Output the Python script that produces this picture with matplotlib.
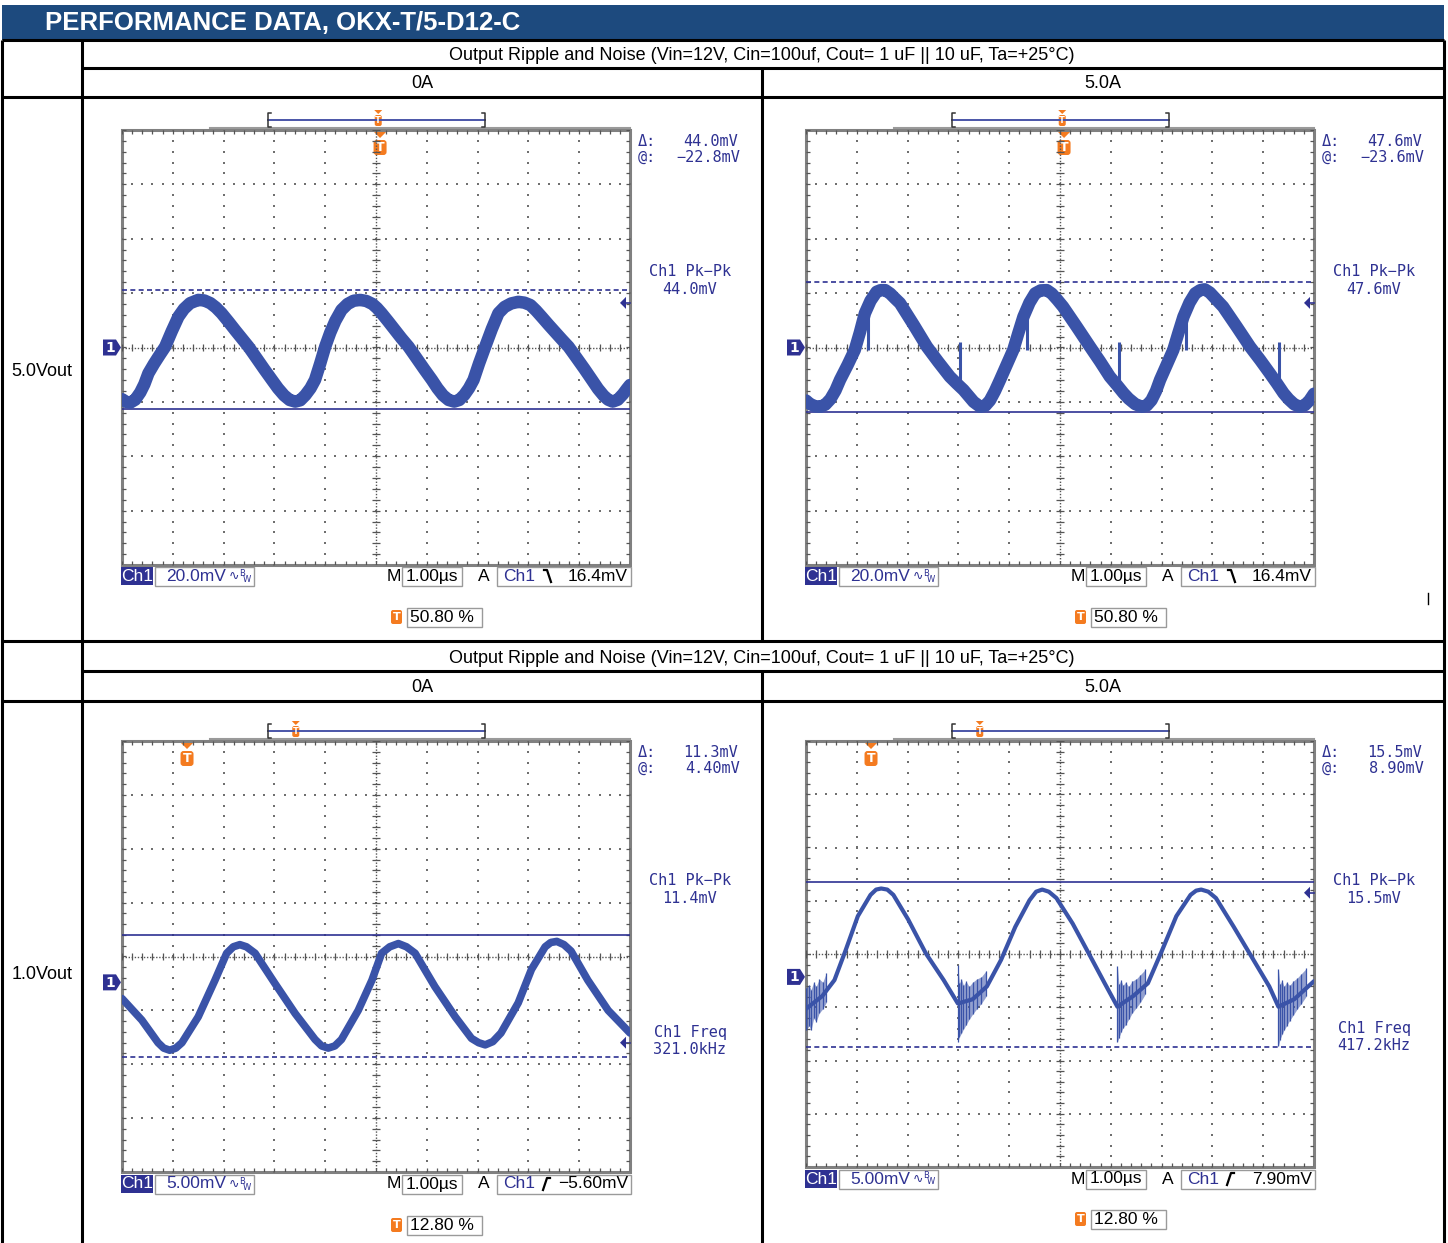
import numpy as np
import matplotlib
matplotlib.use('Agg')
import matplotlib.pyplot as plt
from matplotlib.patches import Rectangle, Polygon, FancyBboxPatch
from matplotlib import font_manager

# ---------------- table text ----------------
header = 'PERFORMANCE DATA, OKX-T/5-D12-C'
test_title = 'Output Ripple and Noise (Vin=12V, Cin=100uf, Cout= 1 uF || 10 uF, Ta=+25°C)'
load_labels = ['0A', '5.0A']
vout_labels = ['5.0Vout', '1.0Vout']

# ---------------- waveforms (t in us from left edge, mV from ch1 ground) ----------------
# 5.0Vout, 0A
tl_t = [0.00, 0.08, 0.16, 0.26, 0.36, 0.44, 0.52, 0.63, 0.74, 0.85, 0.98, 1.11, 1.22, 1.34,
        1.50, 1.62, 1.74, 1.85, 1.96, 2.10, 2.23, 2.36, 2.49, 2.64, 2.80, 2.95, 3.07, 3.19,
        3.30, 3.41, 3.51, 3.61, 3.71, 3.80, 3.90, 4.00, 4.10, 4.20, 4.32, 4.44, 4.56, 4.69,
        4.81, 4.93, 5.02, 5.11, 5.24, 5.37, 5.50, 5.64, 5.79, 5.95, 6.10, 6.21, 6.32, 6.43,
        6.54, 6.64, 6.74, 6.83, 6.92, 7.03, 7.15, 7.28, 7.41, 7.53, 7.66, 7.80, 7.92, 8.04,
        8.15, 8.26, 8.40, 8.53, 8.66, 8.79, 8.94, 9.10, 9.25, 9.37, 9.48, 9.57, 9.66, 9.76,
        9.86, 9.94, 10.0]
tl_mv = [-19.0, -20.0, -20.3, -19.2, -16.5, -13.5, -9.5, -6.0, -2.8, 0.3, 6.0, 11.3, 14.2, 16.3,
         17.5, 17.3, 16.3, 14.7, 12.6, 9.4, 6.3, 3.3, 0.3, -3.7, -8.0, -11.9, -15.0, -17.6,
         -19.3, -19.9, -19.4, -17.5, -15.0, -11.9, -6.0, 0.3, 5.5, 9.8, 13.8, 16.0, 17.2, 17.5,
         17.1, 16.0, 14.5, 12.6, 9.6, 6.5, 3.4, 0.3, -3.7, -8.0, -11.9, -15.0, -17.6, -19.3,
         -19.9, -19.3, -17.4, -15.0, -11.9, -5.8, 0.3, 6.8, 12.6, 14.9, 16.2, 16.8, 16.5, 15.6,
         13.6, 11.3, 8.3, 5.6, 2.9, 0.3, -3.6, -7.8, -11.9, -15.2, -17.7, -19.2, -19.9, -19.2,
         -17.2, -15.2, -13.8]

# 5.0Vout, 5.0A
tr_t = [0.00, 0.08, 0.18, 0.28, 0.38, 0.48, 0.58, 0.67, 0.82, 0.96, 1.06, 1.16, 1.27, 1.39,
        1.47, 1.56, 1.66, 1.75, 1.85, 2.12, 2.38, 2.60, 2.83, 2.97, 3.10, 3.20, 3.30, 3.43,
        3.53, 3.62, 3.72, 3.82, 3.95, 4.08, 4.18, 4.28, 4.40, 4.51, 4.62, 4.74, 4.84, 4.95,
        5.06, 5.33, 5.59, 5.79, 5.98, 6.12, 6.25, 6.35, 6.48, 6.61, 6.71, 6.80, 6.89, 6.97,
        7.10, 7.23, 7.33, 7.43, 7.55, 7.66, 7.76, 7.85, 7.95, 8.08, 8.21, 8.48, 8.74, 8.94,
        9.13, 9.27, 9.40, 9.50, 9.61, 9.72, 9.82, 9.91, 10.0]
tr_mv = [-19.5, -20.8, -21.6, -21.8, -21.0, -19.0, -15.8, -11.9, -6.4, -0.9, 5.5, 12.6, 17.2, 20.5,
         21.1, 21.1, 19.8, 18.1, 16.3, 8.3, 0.3, -5.2, -10.7, -13.3, -15.6, -17.8, -20.0, -21.8,
         -21.4, -19.5, -16.0, -11.9, -6.4, -0.9, 5.3, 11.3, 16.5, 19.9, 21.0, 21.1, 19.8, 17.5,
         15.0, 7.6, 0.3, -5.2, -10.7, -13.8, -16.8, -18.8, -20.8, -21.8, -21.3, -19.4, -16.0, -11.9,
         -6.4, -0.9, 5.3, 11.3, 16.5, 19.9, 21.1, 21.4, 20.2, 17.6, 15.0, 7.6, 0.3, -4.6,
         -9.5, -13.2, -16.8, -19.0, -20.9, -21.8, -21.2, -19.5, -17.0]
tr_spike_t = [1.23, 3.03, 4.36, 6.16, 7.49, 9.31]
tr_spike_lo = [-0.9, -14.0, -0.9, -14.0, -0.9, -14.0]
tr_spike_hi = [13.0, 2.2, 12.0, 2.2, 12.0, 2.2]

# 1.0Vout, 0A
bl_t = [0.00, 0.39, 0.71, 0.82, 0.94, 1.06, 1.18, 1.50, 1.83, 2.06, 2.19, 2.32, 2.45, 2.62,
        3.01, 3.41, 3.80, 3.93, 4.06, 4.19, 4.32, 4.65, 4.92, 5.11, 5.27, 5.44, 5.60, 5.77,
        6.16, 6.56, 6.88, 7.02, 7.15, 7.30, 7.46, 7.80, 8.06, 8.33, 8.44, 8.56, 8.70, 8.84,
        9.17, 9.57, 10.0]
bl_mv = [-1.5, -3.5, -5.6, -6.1, -6.3, -6.1, -5.6, -3.2, 0.2, 2.7, 3.3, 3.5, 3.3, 2.7,
         -0.1, -2.9, -5.3, -5.9, -6.1, -5.9, -5.3, -2.6, 0.2, 2.7, 3.3, 3.6, 3.3, 2.7,
         -0.4, -3.2, -5.2, -5.6, -5.8, -5.5, -4.7, -1.9, 1.2, 3.3, 3.7, 3.8, 3.5, 2.9,
         0.2, -2.6, -4.7]

# 1.0Vout, 5.0A
br_t = [0.00, 0.32, 0.56, 0.78, 1.02, 1.27, 1.38, 1.48, 1.60, 1.72, 2.01, 2.36, 2.71, 2.99,
        3.28, 3.56, 3.84, 4.12, 4.40, 4.53, 4.65, 4.78, 4.93, 5.25, 5.60, 5.88, 6.13, 6.44,
        6.73, 7.01, 7.29, 7.57, 7.68, 7.78, 7.92, 8.07, 8.42, 8.77, 9.12, 9.30, 9.61, 10.0]
br_mv = [-3.0, -1.8, -0.3, 2.5, 5.7, 7.7, 8.2, 8.3, 8.2, 7.7, 5.4, 2.2, -0.3, -2.5,
         -2.1, -0.9, 1.6, 4.7, 7.2, 8.0, 8.2, 8.0, 7.4, 5.0, 1.9, -0.6, -2.8, -1.8,
         -0.6, 2.5, 5.7, 7.7, 8.1, 8.2, 8.0, 7.4, 4.7, 1.9, -0.9, -2.8, -2.1, -0.4]
# switching noise bursts: group id, time, lower / upper edge
br_noise_grp = [0] * 8 + [1] * 10 + [2] * 10 + [3] * 10
br_noise_t = [0.00, 0.06, 0.10, 0.15, 0.20, 0.26, 0.33, 0.40,
              2.99, 3.02, 3.06, 3.10, 3.15, 3.21, 3.28, 3.36, 3.45, 3.55,
              6.13, 6.16, 6.20, 6.24, 6.29, 6.35, 6.42, 6.50, 6.58, 6.68,
              9.30, 9.33, 9.37, 9.41, 9.46, 9.52, 9.59, 9.67, 9.75, 9.85]
br_noise_lo = [-5.0, -4.6, -5.0, -3.9, -4.2, -3.4, -3.0, -2.4,
               -6.1, -5.6, -5.3, -4.9, -4.5, -4.0, -3.5, -3.0, -2.5, -1.8,
               -6.1, -5.7, -5.2, -4.8, -4.5, -4.0, -3.4, -2.9, -2.4, -1.6,
               -6.5, -5.9, -5.4, -5.0, -4.6, -4.1, -3.6, -3.0, -2.5, -1.8]
br_noise_hi = [-1.0, -0.8, -1.2, -0.5, -0.9, -0.2, -0.5, 0.4,
               1.1, -0.6, -0.2, -0.8, -0.4, -0.9, -0.5, -0.2, 0.0, 0.6,
               1.0, -0.7, -0.3, -0.8, -0.5, -0.9, -0.4, -0.2, 0.2, 0.7,
               0.7, -0.7, -0.3, -0.9, -0.5, -0.8, -0.4, -0.1, 0.3, 0.8]

# ---------------- scope settings / readouts (5V-0A, 5V-5A, 1V-0A, 1V-5A) ----------------
mv_per_div = [20.0, 20.0, 5.0, 5.0]
ground_div = [0.0, 0.0, -0.48, -0.43]
volts_label = ['20.0mV', '20.0mV', '5.00mV', '5.00mV']
time_label = ['1.00µs', '1.00µs', '1.00µs', '1.00µs']
cur_delta = [44.0, 47.6, 11.3, 15.5]
cur_at = [-22.8, -23.6, 4.40, 8.90]
cur_other = [21.2, 24.0, -6.9, -6.6]
pkpk = [44.0, 47.6, 11.4, 15.5]
freq_khz = [None, None, 321.0, 417.2]
trig_mv = [16.4, 16.4, -5.60, 7.90]
trig_slope = ['fall', 'fall', 'rise', 'rise']
trig_pct = [50.80, 50.80, 12.80, 12.80]

# ---------------- layout (pixels) ----------------
W, H = 1448, 1243
screens = [(122, 130, 630, 565), (806, 130, 1314, 565),
           (122, 741, 630, 1172), (806, 741, 1314, 1167)]
status_y = [576, 576, 1184, 1179]
pct_y = [617, 617, 1225, 1219]

NAVY = '#2e3192'
TRACE = '#3a53a8'
ORANGE = '#f47b20'
TABLE_BLUE = '#1d4a7e'

names = {f.name for f in font_manager.fontManager.ttflist}
narrow = 'Liberation Sans Narrow' if 'Liberation Sans Narrow' in names else 'Liberation Sans'
mono = 'DejaVu Sans Mono'


def fmt_mv(v):
    s = f'{v:.2f}' if abs(v) < 10 else f'{v:.1f}'
    return s.replace('-', '\u2212') + 'mV'


def to_px(i, t, mv):
    L, T, R, B = screens[i]
    vd = mv_per_div[i]
    top_mv = -ground_div[i] * vd + 4 * vd
    return L + t / 10 * (R - L), T + (top_mv - mv) / (8 * vd) * (B - T)


fig = plt.figure(figsize=(W / 100, H / 100), dpi=100)
base = fig.add_axes([0, 0, 1, 1])
base.set_xlim(0, W)
base.set_ylim(H, 0)
base.axis('off')

# ---------------- table ----------------
base.add_patch(Rectangle((2, 5), 1442, 35, facecolor=TABLE_BLUE, edgecolor='none'))
base.text(45, 23, header, color='white', fontsize=18.5, fontweight='bold',
          family=[narrow, 'DejaVu Sans'], va='center', ha='left')

lw_t = 2.2
for y, x0 in [(40, 2), (68, 82), (97, 2), (641, 2), (671, 82), (701, 2)]:
    base.plot([x0, 1444], [y, y], color='black', lw=lw_t, solid_capstyle='butt')
for x, y0, y1 in [(2, 40, 1243), (82, 40, 1243), (1444, 40, 1243), (762, 68, 641), (762, 671, 1243)]:
    base.plot([x, x], [y0, y1], color='black', lw=lw_t, solid_capstyle='butt')

tfont = dict(fontsize=13, family=[narrow, 'DejaVu Sans'], va='center', ha='center', color='black')
for yt, yl in [(55, 83), (658, 687)]:
    base.text(762, yt, test_title, **tfont)
    for xc, lab in zip([422, 1103], load_labels):
        base.text(xc, yl, lab, **tfont)
for yc, lab in zip([371, 974], vout_labels):
    base.text(42, yc, lab, **tfont)
base.plot([1428, 1428], [593, 604], color='black', lw=1)

waves = [(tl_t, tl_mv, 9.0), (tr_t, tr_mv, 9.0), (bl_t, bl_mv, 5.5), (br_t, br_mv, 3.0)]

for i in range(4):
    L, T, R, B = screens[i]
    vd = mv_per_div[i]
    y0 = -ground_div[i] * vd
    ax = fig.add_axes([L / W, 1 - B / H, (R - L) / W, (B - T) / H])
    ax.set_xlim(0, 10)
    ax.set_ylim(y0 - 4 * vd, y0 + 4 * vd)
    ax.axis('off')

    def gy(d):
        return y0 + np.asarray(d) * vd

    minor_x = np.arange(0, 10.001, 0.2)
    minor_y = np.arange(-4, 4.001, 0.2)
    dot_c = '#6f6f6f'
    for d in range(1, 10):
        if d != 5:
            ax.scatter(np.full(minor_y.size, d), gy(minor_y), s=2.5, c=dot_c, marker='s', lw=0, zorder=1)
    for d in range(-3, 4):
        if d != 0:
            ax.scatter(minor_x, np.full(minor_x.size, gy(d)), s=2.5, c=dot_c, marker='s', lw=0, zorder=1)
    # centre cross with minor ticks
    ax.plot([0, 10], [gy(0), gy(0)], color='#555555', lw=1, ls=(0, (1, 1.2)), zorder=1)
    ax.plot([5, 5], [gy(-4), gy(4)], color='#555555', lw=1, ls=(0, (1, 1.2)), zorder=1)
    ax.vlines(minor_x, gy(-0.07), gy(0.07), color='#555555', lw=0.9, zorder=1)
    ax.hlines(gy(minor_y), 4.93, 5.07, color='#555555', lw=0.9, zorder=1)
    # edge ticks
    ax.vlines(minor_x, gy(3.92), gy(4), color='#555555', lw=0.9, zorder=1)
    ax.vlines(minor_x, gy(-4), gy(-3.92), color='#555555', lw=0.9, zorder=1)
    ax.hlines(gy(minor_y), 0, 0.07, color='#555555', lw=0.9, zorder=1)
    ax.hlines(gy(minor_y), 9.93, 10, color='#555555', lw=0.9, zorder=1)

    # cursors
    ax.plot([0, 10], [cur_at[i]] * 2, color=NAVY, lw=1.2, zorder=2)
    ax.plot([0, 10], [cur_other[i]] * 2, color=NAVY, lw=1.2, ls=(0, (3, 2)), zorder=2)

    t, mv, lw = waves[i]
    ax.plot(t, mv, color=TRACE, lw=lw, solid_joinstyle='round', solid_capstyle='round', zorder=3)
    if i == 1:
        ax.vlines(tr_spike_t, tr_spike_lo, tr_spike_hi, color=TRACE, lw=2.2, zorder=3)
    if i == 3:
        grp = np.array(br_noise_grp)
        nt, nlo, nhi = np.array(br_noise_t), np.array(br_noise_lo), np.array(br_noise_hi)
        for g in np.unique(grp):
            m = grp == g
            ax.fill_between(nt[m], nlo[m], nhi[m], color=TRACE, alpha=0.55, lw=0, zorder=3)
        ax.vlines(nt, nlo, nhi, color=TRACE, lw=0.9, zorder=3)

    # frame
    base.add_patch(Rectangle((L, T), R - L, B - T, fill=False, edgecolor='#808080', lw=2.2, zorder=4))
    base.plot([L + 88, R], [T - 2, T - 2], color='#9a9a9a', lw=1.5)

    # ground marker
    _, gpx = to_px(i, 0, 0)
    base.add_patch(Polygon([(L - 19, gpx - 8), (L - 6, gpx - 8), (L - 1, gpx), (L - 6, gpx + 8), (L - 19, gpx + 8)],
                           closed=True, facecolor=NAVY, edgecolor='none'))
    base.text(L - 12, gpx + 0.5, '1', color='white', fontsize=10, fontweight='bold', ha='center', va='center')

    # trigger level arrow on right edge
    _, tpx = to_px(i, 10, trig_mv[i])
    base.add_patch(Polygon([(R - 10, tpx), (R - 4, tpx - 6), (R - 4, tpx + 6)], closed=True,
                           facecolor=NAVY, edgecolor='none', zorder=5))
    base.plot([R - 5, R], [tpx, tpx], color=NAVY, lw=1.2, zorder=5)

    # record bar with trigger position
    bl, br_, by = L + 146, L + 363, T - 10
    base.plot([bl, br_], [by, by], color='#4a55a8', lw=1.4)
    for xb, sgn in [(bl, 1), (br_, -1)]:
        base.plot([xb + 3 * sgn, xb, xb, xb + 3 * sgn], [by - 7, by - 7, by + 7, by + 7], color='#333333', lw=1.1)
    mx = bl + trig_pct[i] / 100 * (br_ - bl)
    base.add_patch(Polygon([(mx - 4, by - 10), (mx + 4, by - 10), (mx, by - 6)], closed=True, facecolor=ORANGE, edgecolor='none'))
    base.add_patch(FancyBboxPatch((mx - 3.5, by - 5), 7, 11, boxstyle='round,pad=0,rounding_size=2',
                                  facecolor=ORANGE, edgecolor='none'))
    base.text(mx, by + 0.5, 'T', color='white', fontsize=6, fontweight='bold', ha='center', va='center')

    # trigger position marker inside the screen
    tx, _ = to_px(i, trig_pct[i] / 10, 0)
    base.add_patch(Polygon([(tx - 6, T + 2), (tx + 6, T + 2), (tx, T + 8)], closed=True, facecolor=ORANGE, edgecolor='none', zorder=5))
    base.add_patch(FancyBboxPatch((tx - 6.5, T + 10), 13, 15, boxstyle='round,pad=0,rounding_size=3',
                                  facecolor=ORANGE, edgecolor='none', zorder=5))
    base.text(tx, T + 17.5, 'T', color='white', fontsize=9, fontweight='bold', ha='center', va='center', zorder=6)

    # readouts right of the screen
    rf = dict(color=NAVY, fontsize=11, family=mono, va='center')
    base.text(L + 516, T + 11, '\u0394:', ha='left', **rf)
    base.text(L + 616, T + 11, f'{cur_delta[i]:.1f}mV', ha='right', **rf)
    base.text(L + 516, T + 27, '@:', ha='left', **rf)
    base.text(L + 618, T + 27, fmt_mv(cur_at[i]), ha='right', **rf)
    pk_y = T + 141 if i < 2 else T + 139
    base.text(L + 568, pk_y, 'Ch1 Pk\u2212Pk', ha='center', **rf)
    base.text(L + 568, pk_y + 18, f'{pkpk[i]:.1f}mV', ha='center', **rf)
    if freq_khz[i] is not None:
        fy = T + 292 if i == 2 else T + 288
        base.text(L + 568, fy, 'Ch1 Freq', ha='center', **rf)
        base.text(L + 568, fy + 17, f'{freq_khz[i]:.1f}kHz', ha='center', **rf)

    # status bar
    sy = status_y[i]
    sf = dict(fontsize=12.5, family=[narrow, 'DejaVu Sans'], va='center')
    base.add_patch(Rectangle((L - 1, sy - 9), 32, 18, facecolor=NAVY, edgecolor='none'))
    base.text(L + 15, sy, 'Ch1', color='white', ha='center', **sf)
    base.add_patch(Rectangle((L + 33, sy - 9), 99, 19, facecolor='white', edgecolor='#9a9a9a', lw=1))
    base.text(L + 44, sy, volts_label[i], color=NAVY, ha='left', **sf)
    base.text(L + 112, sy, '\u223f', color=NAVY, fontsize=9, ha='center', va='center')
    base.text(L + 120, sy - 3, 'B', color=NAVY, fontsize=6, ha='center', va='center')
    base.text(L + 125, sy + 3, 'W', color=NAVY, fontsize=6, ha='center', va='center')
    base.text(L + 272, sy, 'M', color='black', ha='center', **sf)
    base.add_patch(Rectangle((L + 280, sy - 9), 60, 19, facecolor='white', edgecolor='#9a9a9a', lw=1))
    base.text(L + 310, sy, time_label[i], color='black', ha='center', **sf)
    base.text(L + 362, sy, 'A', color='black', ha='center', **sf)
    base.add_patch(Rectangle((L + 375, sy - 9), R - L - 374, 19, facecolor='white', edgecolor='#9a9a9a', lw=1))
    base.text(L + 381, sy, 'Ch1', color=NAVY, ha='left', **sf)
    ex = L + 425
    if trig_slope[i] == 'fall':
        base.plot([ex - 3, ex, ex + 4], [sy - 6, sy - 6, sy + 6], color='black', lw=1.6)
    else:
        base.plot([ex - 4, ex, ex + 3], [sy + 6, sy - 6, sy - 6], color='black', lw=1.6)
    base.text(R - 2, sy, fmt_mv(trig_mv[i]), color='black', ha='right', **sf)

    # trigger position readout
    py = pct_y[i]
    base.add_patch(FancyBboxPatch((L + 269, py - 7), 11, 14, boxstyle='round,pad=0,rounding_size=2',
                                  facecolor=ORANGE, edgecolor='none'))
    base.text(L + 274.5, py, 'T', color='white', fontsize=8, fontweight='bold', ha='center', va='center')
    base.add_patch(Rectangle((L + 285, py - 9), 75, 19, facecolor='white', edgecolor='#9a9a9a', lw=1))
    base.text(L + 288, py, f'{trig_pct[i]:.2f} %', color='black', ha='left', **sf)

fig.savefig('out.png', dpi=100)
